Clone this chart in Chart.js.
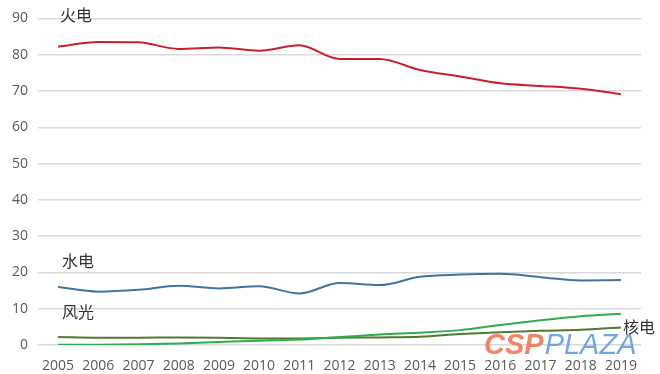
<!DOCTYPE html>
<html>
<head>
<meta charset="utf-8">
<script src="https://cdn.jsdelivr.net/npm/chart.js@4/dist/chart.umd.min.js"></script>
<style>
  html, body { margin: 0; padding: 0; background: #fff; }
  #wrap { width: 660px; height: 374px; }
</style>
</head>
<body>
<div id="wrap"><canvas id="powerChart"></canvas></div>
<script>
// Years and generation shares (%)
const years = ['2005', '2006', '2007', '2008', '2009', '2010', '2011', '2012', '2013', '2014', '2015', '2016', '2017', '2018', '2019'];
const thermal = [82.2, 83.5, 83.4, 81.6, 82.0, 81.1, 82.6, 78.8, 78.8, 75.8, 74.0, 72.1, 71.4, 70.6, 69.1];
const hydro = [16.0, 14.7, 15.2, 16.3, 15.6, 16.2, 14.2, 17.1, 16.5, 18.8, 19.4, 19.6, 18.7, 17.8, 17.9];
const windSolar = [0.1, 0.1, 0.2, 0.4, 0.8, 1.2, 1.5, 2.2, 2.9, 3.4, 4.1, 5.5, 6.8, 7.9, 8.6];
const nuclear = [2.2, 2.0, 2.0, 2.1, 2.0, 1.8, 1.8, 2.0, 2.1, 2.3, 3.0, 3.5, 3.9, 4.2, 4.8];
const yTicks = [0, 10, 20, 30, 40, 50, 60, 70, 80, 90];

// Series labels drawn next to the lines
const seriesLabels = [
    { text: '火电', year: '2005', value: 91.0, dx: 2 },
    { text: '水电', year: '2005', value: 23.1, dx: 4 },
    { text: '风光', year: '2005', value: 9.0, dx: 4 },
    { text: '核电', year: '2019', value: 5.0, dx: 2 }
];

const labelPlugin = {
    id: 'seriesLabels',
    afterDatasetsDraw(chart) {
        const { ctx, scales } = chart;
        ctx.save();
        ctx.font = '16px "Noto Sans CJK SC"';
        ctx.fillStyle = '#333333';
        ctx.textBaseline = 'middle';
        ctx.textAlign = 'left';
        seriesLabels.forEach(l => {
            const x = scales.x.getPixelForValue(years.indexOf(l.year)) + l.dx;
            const y = scales.y.getPixelForValue(l.value);
            ctx.fillText(l.text, x, y);
        });

        // watermark
        ctx.font = 'italic bold 29px "Liberation Sans"';
        ctx.textBaseline = 'alphabetic';
        ctx.fillStyle = 'rgba(240, 110, 80, 0.85)';
        ctx.fillText('CSP', 484, 354);
        const w = ctx.measureText('CSP').width;
        ctx.font = 'italic 29px "Liberation Sans"';
        ctx.fillStyle = 'rgba(90, 150, 225, 0.85)';
        ctx.fillText('PLAZA', 484 + w + 1, 354);
        ctx.restore();
    }
};

function lineSet(label, data, color) {
    return {
        label: label,
        data: data,
        borderColor: color,
        backgroundColor: color,
        borderWidth: 2,
        pointRadius: 0,
        tension: 0.4,
        cubicInterpolationMode: 'monotone',
        fill: false
    };
}

new Chart(document.getElementById('powerChart'), {
    type: 'line',
    data: {
        labels: years,
        datasets: [
            lineSet('火电', thermal, '#C8202C'),
            lineSet('水电', hydro, '#43739F'),
            lineSet('风光', windSolar, '#2FAE4E'),
            lineSet('核电', nuclear, '#4F7A30')
        ]
    },
    options: {
        responsive: true,
        maintainAspectRatio: false,
        animation: false,
        layout: { padding: { top: 14, right: 19, bottom: 0, left: 0 } },
        plugins: {
            legend: { display: false },
            tooltip: { enabled: false }
        },
        scales: {
            x: {
                offset: true,
                grid: { display: false },
                border: { display: false },
                ticks: {
                    color: '#595959',
                    font: { size: 14, family: 'Open Sans' },
                    maxRotation: 0,
                    autoSkip: false,
                    padding: 5
                },
                afterFit(scale) { scale.height = 29; }
            },
            y: {
                min: 0,
                max: 90,
                afterBuildTicks(scale) { scale.ticks = yTicks.map(v => ({ value: v })); },
                grid: { color: '#D9D9D9', lineWidth: 1.5, drawTicks: false },
                border: { display: false },
                ticks: {
                    color: '#595959',
                    font: { size: 14, family: 'Open Sans' },
                    padding: 10
                },
                afterFit(scale) { scale.width = 38; }
            }
        }
    },
    plugins: [labelPlugin]
});
</script>
</body>
</html>
